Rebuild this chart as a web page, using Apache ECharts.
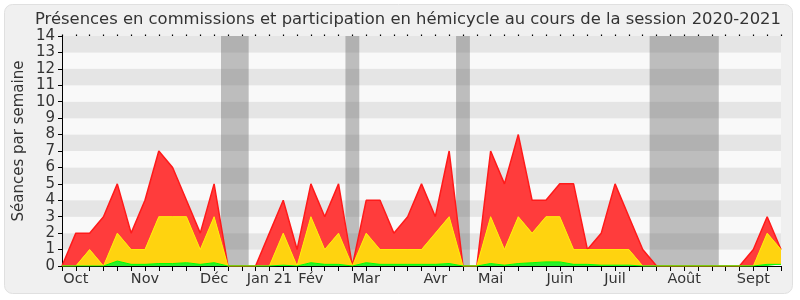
<!DOCTYPE html>
<html>
<head>
<meta charset="utf-8">
<script src="https://cdn.jsdelivr.net/npm/echarts@6/dist/echarts.min.js"></script>
<style>
html,body{margin:0;padding:0;background:#ffffff;}
#c{width:800px;height:300px;}
</style>
</head>
<body>
<div id="c"></div>
<script>
// Week categories (53 weeks), month tick labels at their first week
const weekLabels = ['', 'Oct', '', '', '', '', 'Nov', '', '', '', '', 'Déc', '', '', '', 'Jan 21', '', '', 'Fév', '', '', '', 'Mar', '', '', '', '', 'Avr', '', '', '', 'Mai', '', '', '', '', 'Juin', '', '', '', 'Juil', '', '', '', '', 'Août', '', '', '', '', 'Sept', '', ''];

// Stacked components per week
const green = [0,0,0,0,0.3,0.1,0.1,0.15,0.15,0.2,0.1,0.2,0, 0,0,0,0.05,0,0.2,0.1,0.1,0,0.2,0.1,0.1,0.1,0.1,0.1,0.15,0,0, 0.15,0.05,0.15,0.2,0.25,0.25,0.1,0.1,0.05,0.05,0.05, 0,0,0,0,0,0,0,0,0, 0.1,0.1];
const yellow = [0,0,1,0,1.7,0.9,0.9,2.85,2.85,2.8,0.9,2.8,0, 0,0,0,1.95,0,2.8,0.9,1.9,0,1.8,0.9,0.9,0.9,0.9,1.9,2.85,0,0, 2.85,0.95,2.85,1.8,2.75,2.75,0.9,0.9,0.95,0.95,0.95, 0,0,0,0,0,0,0,0,0, 1.9,0.9];
const red = [0,2,1,3,3,1,3,4,3,1,1,2,0, 0,0,2,2,1,2,2,3,0,2,3,1,2,4,1,4,0,0, 4,4,5,2,1,2,4,0,1,4,2, 1,0,0,0,0,0,0,0,1, 1,0];

// Vacation periods (in week positions)
const vacations = [[11.5, 13.5], [20.5, 21.5], [28.5, 29.5], [42.5, 47.5]];

const yTicks = [0,1,2,3,4,5,6,7,8,9,10,11,12,13,14];
const yName = 'Séances par semaine';

const chart = echarts.init(document.getElementById('c'), null, {renderer: 'canvas'});
const FONT = 'DejaVu Sans';

chart.setOption({
  animation: false,
  backgroundColor: 'transparent',
  textStyle: {fontFamily: FONT},
  graphic: [{
    type: 'rect', z: -10, silent: true,
    shape: {x: 4.5, y: 4.5, width: 788, height: 289, r: 8},
    style: {fill: '#f0f0f0', stroke: '#e0e0e0', lineWidth: 1}
  }, {
    type: 'text', silent: true, x: 19, y: 141, rotation: Math.PI / 2,
    style: {text: yName, fontFamily: FONT, fontSize: 15, fill: '#333', align: 'center', verticalAlign: 'middle'}
  }],
  title: {
    text: 'Présences en commissions et participation en hémicycle au cours de la session 2020-2021',
    left: 30, top: 7,
    textStyle: {fontFamily: FONT, fontSize: 16.4, fontWeight: 'normal', color: '#333'}
  },
  grid: {left: 62, right: 19, top: 36, bottom: 34, containLabel: false},
  xAxis: [{
    type: 'category', data: weekLabels, boundaryGap: false, position: 'bottom',
    axisLine: {show: true, lineStyle: {color: '#000', width: 1}},
    axisTick: {show: true, interval: 0, length: 5, lineStyle: {color: '#000'}},
    axisLabel: {interval: 0, margin: 6, fontFamily: FONT, fontSize: 14.5, color: '#333'},
    splitLine: {show: false}
  }, {
    type: 'category', data: weekLabels, boundaryGap: false, position: 'top',
    axisLine: {show: false},
    axisTick: {show: true, interval: 0, length: 1.5, lineStyle: {color: '#000', width: 1.2}},
    axisLabel: {show: false},
    splitLine: {show: false}
  }, {
    type: 'value', min: 0, max: weekLabels.length - 1, show: false
  }],
  yAxis: {
    type: 'value', min: yTicks[0], max: yTicks[yTicks.length - 1], interval: 1,
    axisLine: {show: true, lineStyle: {color: '#000'}},
    axisTick: {show: true, length: 4, lineStyle: {color: '#000'}},
    axisLabel: {margin: 7, fontFamily: FONT, fontSize: 15, color: '#333'},
    splitLine: {show: false},
    splitArea: {show: true, areaStyle: {color: ['#f9f9f9', '#e5e5e5']}}
  },
  series: [{
    type: 'line', xAxisIndex: 2, data: [], silent: true, z: 1,
    markArea: {
      silent: true,
      itemStyle: {color: 'rgba(100,100,100,0.4)'},
      data: vacations.map(v => [{xAxis: v[0]}, {xAxis: v[1]}])
    }
  }, {
    name: 'green', type: 'line', stack: 'all', data: green, symbol: 'none', z: 4,
    lineStyle: {color: '#00ff00', width: 1},
    areaStyle: {color: '#2af02a', opacity: 1}
  }, {
    name: 'yellow', type: 'line', stack: 'all', data: yellow, symbol: 'none', z: 3,
    lineStyle: {color: '#ffee00', width: 1},
    areaStyle: {color: '#ffd30f', opacity: 1}
  }, {
    name: 'red', type: 'line', stack: 'all', data: red, symbol: 'none', z: 2,
    lineStyle: {color: '#ff1a1a', width: 1.5},
    areaStyle: {color: '#ff3c3c', opacity: 1}
  }]
});
</script>
</body>
</html>
